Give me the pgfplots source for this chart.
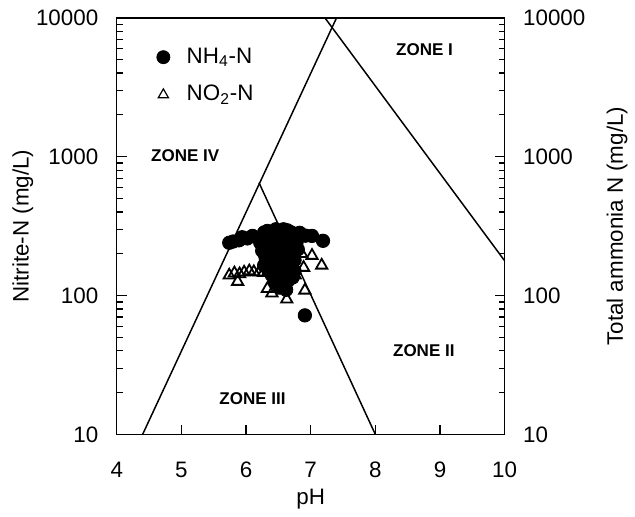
\documentclass[border=0pt]{standalone}
\usepackage{fontspec}
\setmainfont{Liberation Sans}
\usepackage{pgfplots}
\pgfplotsset{compat=1.18}
\begin{document}
\fontsize{11.3}{13.5}\selectfont
\begin{tikzpicture}
\begin{axis}[
 width=196pt, height=210.5pt, scale only axis,
 xmin=4, xmax=10, ymin=10, ymax=10000, ymode=log,
 xtick={4,...,10},
 ytick={10,100,1000,10000}, yticklabels={10,100,1000,10000},
 minor ytick={20,30,...,90,200,300,...,900,2000,3000,...,9000},
 xtick pos=bottom, ytick pos=both, yticklabel pos=left, tick align=inside,
 major tick length=5pt, minor tick length=3pt,
 tick style={black, line width=0.6pt},
 axis line style={line width=0.7pt},
 /pgf/number format/assume math mode=true,
 ticklabel style={font=\fontsize{11.3}{13.5}\selectfont},
 xticklabel style={yshift=-10pt},
 yticklabel style={xshift=-5.4pt},
 xlabel={pH}, ylabel={Nitrite-N (mg/L)},
 every axis x label/.style={at={(rel axis cs:0.5,-0.155)}, anchor=center},
 every axis y label/.style={at={(rel axis cs:-0.242,0.5)}, anchor=center, rotate=90},
 clip=false,
 legend style={at={(rel axis cs:0.087,0.948)}, anchor=north west, draw=none, fill=none, row sep=5.5pt,
   font=\fontsize{11.3}{13.5}\selectfont, /tikz/every odd column/.append style={column sep=6.5pt}},
 legend cell align=left,
]
\path (rel axis cs:-0.301,-0.19) rectangle (rel axis cs:1.319,1.0428);
\addlegendimage{only marks, mark=*, mark size=3.3pt, black}
\addlegendentry{NH\textsubscript{4}-N}
\addlegendimage{only marks, mark=triangle, mark size=3pt, black, mark options={line width=0.6pt, fill=white}}
\addlegendentry{NO\textsubscript{2}-N}
% zone boundaries
\addplot[black, line width=0.75pt, forget plot] coordinates {(4.4,10) (7.4,10000)};
\addplot[black, line width=0.75pt, forget plot] coordinates {(7.22,10000) (10,178)};
\addplot[black, line width=0.75pt, forget plot] coordinates {(6.2,650) (8.0,10)};
% NO2-N
\addplot[only marks, mark=triangle, mark size=3.3pt, black, mark options={line width=0.9pt, fill=white}, forget plot] coordinates {
(5.74,140) (5.82,145) (5.87,126) (5.90,143) (5.97,147) (6.05,150) (6.12,148) (6.20,147) (6.27,146) (6.35,150) (6.42,145)
(6.33,112) (6.40,104) (6.50,120) (6.58,109) (6.63,94) (6.91,109) (7.02,194) (7.17,165) (6.86,200) (6.89,159)
(6.76,140) (6.55,130) (6.62,160) (6.70,175) (6.48,155)};
% NH4-N
\addplot[only marks, mark=*, mark size=3.4pt, black, forget plot] coordinates {
(5.74,240) (5.80,245) (5.89,250) (5.94,263) (6.02,258) (6.10,269) (6.20,258) (6.28,285) (6.33,292)
(6.40,285) (6.46,300) (6.52,290) (6.58,300) (6.64,295) (6.70,285) (6.83,283) (6.92,270) (7.02,269) (7.19,248)
(6.22,240) (6.25,210) (6.30,190) (6.35,170) (6.28,165) (6.38,200) (6.42,230) (6.48,260) (6.55,270)
(6.62,265) (6.72,260) (6.78,240) (6.75,230) (6.80,215)
(6.30,230) (6.36,240) (6.40,215) (6.45,195) (6.50,240) (6.55,215) (6.45,175) (6.50,165) (6.55,155)
(6.60,190) (6.65,230) (6.70,205) (6.75,180) (6.60,150) (6.55,135) (6.65,128) (6.50,145) (6.70,158)
(6.45,150) (6.60,118) (6.52,115) (6.62,110) (6.45,125) (6.40,140) (6.35,150) (6.72,135) (6.75,150)
(6.42,260) (6.58,260) (6.68,250) (6.91,72)};
% zone labels
\node[font=\bfseries\fontsize{8.6}{10}\selectfont] at (axis cs:8.76,5916) {ZONE I};
\node[font=\bfseries\fontsize{8.6}{10}\selectfont] at (axis cs:5.06,1023) {ZONE IV};
\node[font=\bfseries\fontsize{8.6}{10}\selectfont] at (axis cs:6.10,18) {ZONE III};
\node[font=\bfseries\fontsize{8.6}{10}\selectfont] at (axis cs:8.75,39.8) {ZONE II};
\end{axis}
\begin{axis}[
 width=196pt, height=210.5pt, scale only axis,
 xmin=4, xmax=10, ymin=10, ymax=10000, ymode=log,
 axis x line=none, axis y line*=right,
 ytick={10,100,1000,10000}, yticklabels={10,100,1000,10000},
 minor ytick={20,30,...,90,200,300,...,900,2000,3000,...,9000},
 tick align=inside, major tick length=5pt, minor tick length=3pt,
 tick style={black, line width=0.6pt},
 axis line style={line width=0.7pt},
 /pgf/number format/assume math mode=true,
 ticklabel style={font=\fontsize{11.3}{13.5}\selectfont},
 yticklabel style={xshift=5.4pt},
 ylabel={Total ammonia N (mg/L)},
 every axis y label/.style={at={(rel axis cs:1.29,0.5)}, anchor=center, rotate=90},
]
\end{axis}
\end{tikzpicture}
\end{document}
